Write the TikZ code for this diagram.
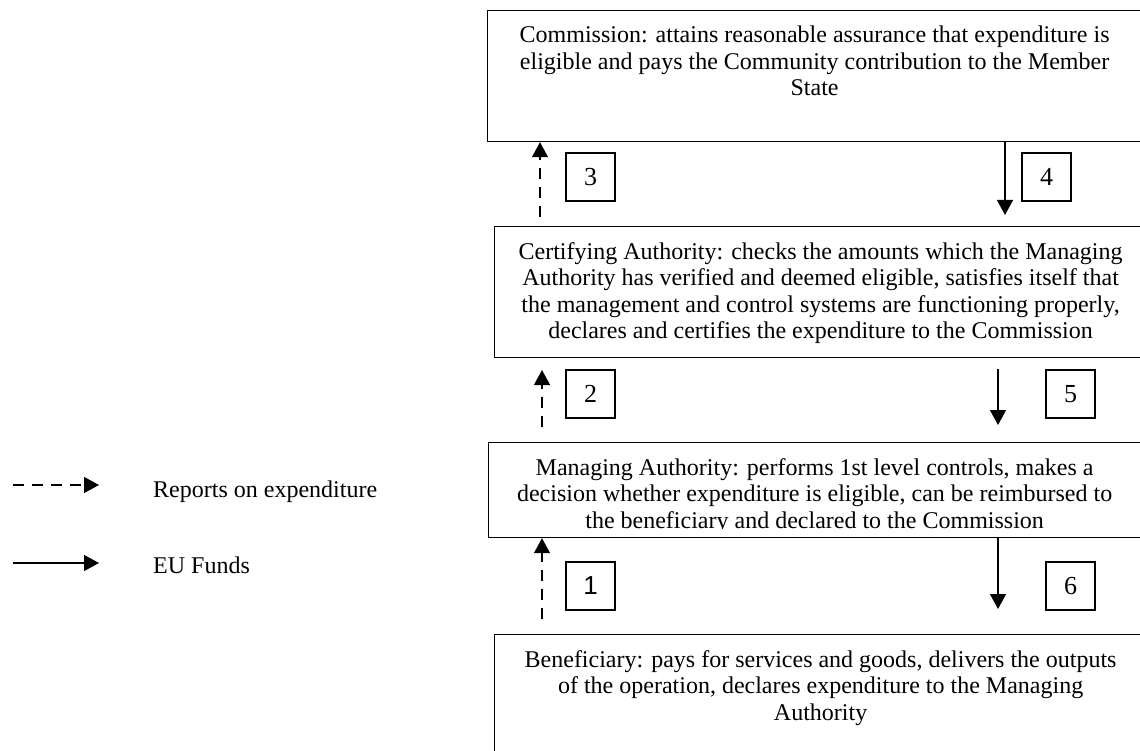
\documentclass[tikz,border=0pt]{standalone}
\usepackage{fontspec}
\setmainfont{Liberation Serif}
\newfontfamily\numsans{Liberation Sans}
\usetikzlibrary{positioning, arrows.meta}

\tikzset{
  panel/.style={draw, line width=1.2pt, rectangle, anchor=north west, inner sep=0pt},
  paneltext/.style={align=center, inner sep=0pt, font=\fontsize{24}{26.5}\selectfont},
  numbox/.style={draw, line width=1.2pt, minimum width=49pt, minimum height=48pt, inner sep=0pt, font=\fontsize{26}{26}\selectfont},
  report/.style={line width=1.3pt, dash pattern=on 11pt off 8pt, -{Triangle[length=15pt,width=16pt]}},
  funds/.style={line width=1.3pt, -{Triangle[length=15pt,width=16pt]}},
  legtext/.style={inner sep=0pt, anchor=base west, font=\fontsize{24}{26.5}\selectfont},
}

\begin{document}
\begin{tikzpicture}[x=1pt, y=-1pt]
\useasboundingbox (0,0) rectangle (1140,751);
\clip (0,0) rectangle (1140,751);

\node[panel, minimum width=666pt, minimum height=131pt] (comm) at (487,10) {};
\node[panel, minimum width=652pt, minimum height=131pt] (cert) at (494,226) {};
\node[panel, minimum width=664pt, minimum height=95pt] (manag) at (488,442) {};
\node[panel, minimum width=652pt, minimum height=140pt] (benef) at (494,634) {};

\node[paneltext, below=16pt of comm.north, xshift=-6pt] (commtxt) {Commission: attains reasonable assurance that expenditure is\\
  eligible and pays the Community contribution to the Member\\ State};
\node[paneltext, below=16pt of cert.north] (certtxt) {Certifying Authority: checks the amounts which the Managing\\
  Authority has verified and deemed eligible, satisfies itself that\\
  the management and control systems are functioning properly,\\
  declares and certifies the expenditure to the Commission};
\begin{scope}
\clip (manag.north west) rectangle ([yshift=10pt]manag.south east);
\node[paneltext, below=16pt of manag.north, xshift=-6pt] (managtxt) {Managing Authority: performs 1st level controls, makes a\\
  decision whether expenditure is eligible, can be reimbursed to\\
  the beneficiary and declared to the Commission};
\end{scope}
\node[paneltext, below=16pt of benef.north] (beneftxt) {Beneficiary: pays for services and goods, delivers the outputs\\
  of the operation, declares expenditure to the Managing\\ Authority};

\node[numbox] (n3) at (590.5,177) {3};
\node[numbox] (n4) at (1046.5,177) {4};
\node[numbox] (n2) at (590.5,394) {2};
\node[numbox] (n5) at (1070.5,394) {5};
\node[numbox] (n1) at (590.5,586) {\numsans 1};
\node[numbox] (n6) at (1070.5,586) {6};

\coordinate (r3a) at (540,217);
\coordinate (r2a) at (542,427);
\coordinate (r2b) at (542,370);
\coordinate (r1a) at (542,619);
\coordinate (f4b) at (1005,215);
\coordinate (f5a) at (998,369);
\coordinate (f5b) at (998,425);
\coordinate (f6b) at (998,609);

\draw
    (r3a) edge[report] (r3a |- comm.south)
    (r2a) edge[report] (r2b)
    (r1a) edge[report] (r1a |- manag.south)
    (comm.south -| f4b) edge[funds] (f4b)
    (f5a) edge[funds] (f5b)
    (manag.south -| f6b) edge[funds] (f6b)
    ;

\coordinate (lg1a) at (13,485);
\coordinate (lg1b) at (99,485);
\coordinate (lg2a) at (13,563);
\coordinate (lg2b) at (99,563);
\node[legtext] (lrep) at (153,497) {Reports on expenditure};
\node[legtext] (lfund) at (153,573) {EU Funds};

\draw
    (lg1a) edge[report] (lg1b)
    (lg2a) edge[funds] (lg2b)
    ;
\end{tikzpicture}
\end{document}
